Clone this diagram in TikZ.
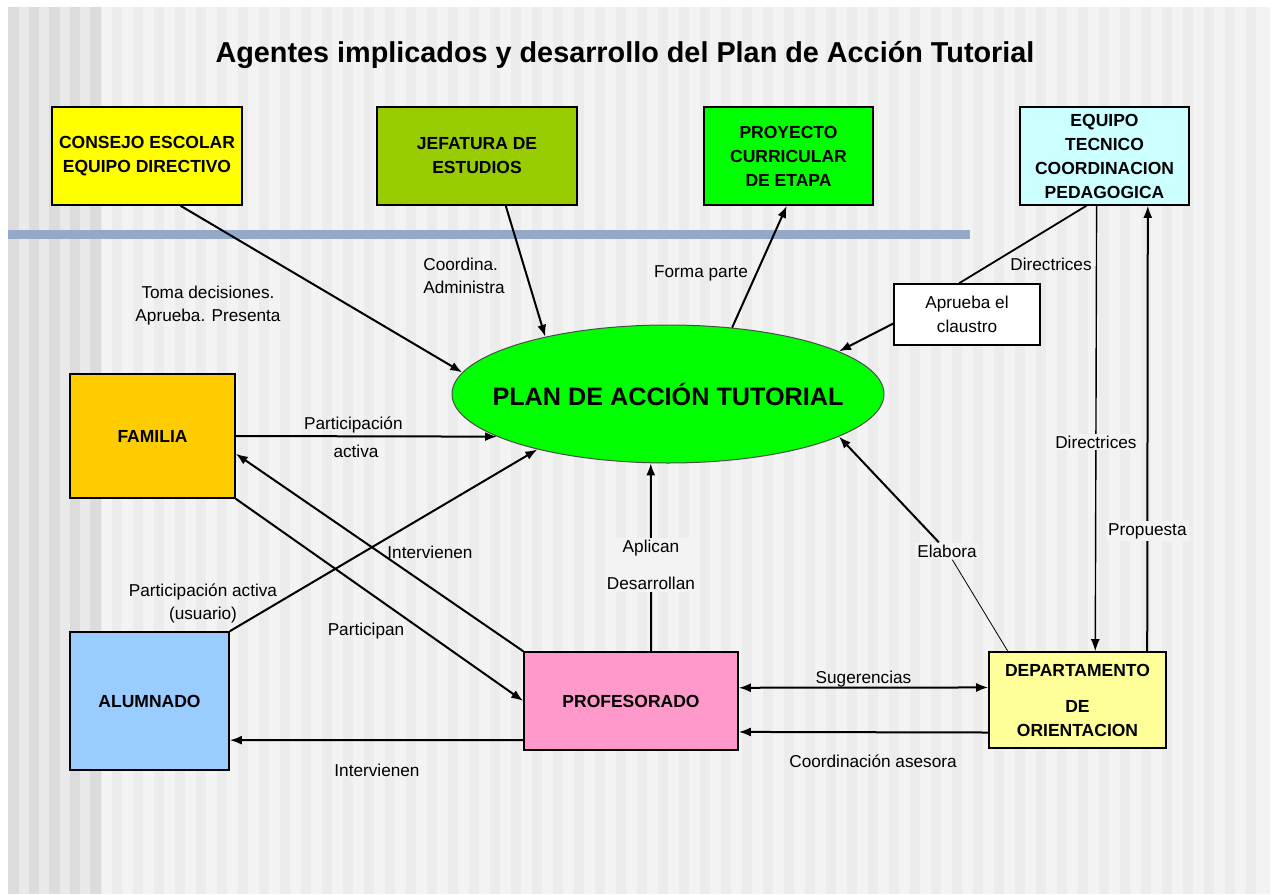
\documentclass[tikz,border=0pt]{standalone}
\usepackage{fontspec}
\setmainfont{Liberation Sans}
\usetikzlibrary{shapes.geometric, arrows.meta, positioning}

\definecolor{slidebg}{HTML}{F3F3F3}
\definecolor{faintstripe}{HTML}{ECECEC}
\definecolor{bandlight}{HTML}{E9E9E9}
\definecolor{banddark}{HTML}{DCDCDC}
\definecolor{barblue}{HTML}{93A9C7}
\definecolor{consejofill}{HTML}{FFFF00}
\definecolor{jefaturafill}{HTML}{99CC00}
\definecolor{proyectofill}{HTML}{00FF00}
\definecolor{equipofill}{HTML}{CCFFFF}
\definecolor{familiafill}{HTML}{FFCC00}
\definecolor{alumnadofill}{HTML}{99CCFF}
\definecolor{profesfill}{HTML}{FF99CC}
\definecolor{deptofill}{HTML}{FFFF99}

\begin{document}
\begin{tikzpicture}[x=0.5pt, y=-0.5pt, >={Latex[length=6pt,width=4.5pt]},
  box/.style={draw, line width=0.8pt, align=center, inner sep=1pt,
    font=\bfseries\fontsize{8.75}{12}\selectfont},
  lbl/.style={align=center, inner sep=1pt, font=\fontsize{8.6}{11.5}\selectfont},
  arr/.style={->, line width=1pt},
  thinline/.style={line width=0.7pt}]
  % fondo de la diapositiva
  \useasboundingbox (0,0) rectangle (1278,894);
  \fill[white] (0,0) rectangle (1278,894);
  \fill[slidebg] (8,7) rectangle (1270,894);
  \foreach \sx in {112,133,...,1260} \fill[faintstripe] (\sx,7) rectangle ++(10,887);
  \fill[bandlight] (8,7) rectangle (102,894);
  \foreach \sx in {8,28.5,...,95} \fill[banddark] (\sx,7) rectangle ++(10.5,887);
  \fill[barblue] (8,230) rectangle (970,239);

  \node[font=\bfseries\fontsize{14.4}{17}\selectfont] (titulo) at (625,55)
    {Agentes implicados y desarrollo del Plan de Acción Tutorial};

  % cajas de arriba
  \node[box, fill=consejofill, minimum width=95pt, minimum height=49pt] (consejo) at (147,156) {CONSEJO ESCOLAR\\EQUIPO DIRECTIVO};
  \node[box, fill=jefaturafill, minimum width=100pt, minimum height=49pt] (jefatura) at (477,156) {JEFATURA DE\\ESTUDIOS};
  \node[box, fill=proyectofill, minimum width=84.5pt, minimum height=49pt] (proyecto) at (788.5,156) {PROYECTO\\CURRICULAR\\DE ETAPA};
  \node[box, fill=equipofill, minimum width=84.5pt, minimum height=49pt] (equipo) at (1104.5,156) {EQUIPO\\TECNICO\\COORDINACION\\PEDAGOGICA};

  \node[ellipse, draw=black!70, line width=0.5pt, fill=proyectofill, minimum width=216pt, minimum height=69pt, inner sep=0pt,
    font=\bfseries\fontsize{12.6}{14}\selectfont] (plan) at (668,394) {\makebox[0pt]{PLAN DE ACCIÓN TUTORIAL}};

  \node[box, fill=white, font=\fontsize{8.6}{12}\selectfont, minimum width=73pt, minimum height=30.5pt] (claustro) at (967,314.5) {Aprueba el\\claustro};

  % cajas de abajo
  \node[box, fill=familiafill, minimum width=82.5pt, minimum height=62pt] (familia) at (152.5,436) {FAMILIA};
  \node[box, fill=alumnadofill, minimum width=79.5pt, minimum height=69pt] (alumnado) at (149.5,701) {ALUMNADO};
  \node[box, fill=profesfill, minimum width=107pt, minimum height=49pt] (profesorado) at (631,701) {PROFESORADO};
  \node[box, fill=deptofill, minimum width=88.5pt, minimum height=48pt] (depto) at (1077.5,700) {DEPARTAMENTO\\[6pt]DE\\ORIENTACION};

  % etiquetas sueltas
  \node[lbl] (tomalbl) at (208,306) {Toma decisiones.\\Aprueba. Presenta};
  \node[lbl, align=left] (coordlbl) at (464,276) {Coordina.\\Administra};
  \node[lbl] (formalbl) at (701,273) {Forma parte};
  \node[lbl] (direclbl) at (1051,264) {Directrices};
  \node[lbl] (intfamlbl) at (430,552) {Intervienen};
  \node[lbl] (partlbl) at (366,631) {Participan};
  \node[lbl] (usuariolbl) at (203,603) {Participación activa\\(usuario)};
  \node[lbl, fill=slidebg] (elabora) at (947,551) {Elabora};
  \node[lbl] (asesoralbl) at (873,761) {Coordinación asesora};
  \node[lbl] (intalulbl) at (377,770) {Intervienen};

  \path[arr]
  (consejo.-56) edge (plan.174)
    (jefatura.-60) edge (plan.155)
  (plan.46) edge (proyecto.-92)
    (claustro.187) edge (plan.14)
  (familia.east) edge node[lbl, above, pos=0.45] {Participación} node[lbl, below=3pt, pos=0.46] {activa} (plan.194)
    (profesorado.north west) edge (familia.-12)
  (familia.south east) edge (profesorado.west)
    (alumnado.north east) edge (plan.203)
  (profesorado.68) edge node[lbl, fill=slidebg, pos=0.46] {Aplican\\[7pt]Desarrollan} (plan.256)
    (elabora) edge (plan.-14)
  (depto.200) edge (profesorado.-16)
    (profesorado.200) edge (alumnado.-26)
  (depto.35) edge node[lbl, fill=slidebg, pos=0.27] {Propuesta} (equipo.-49)
    (profesorado.7) edge[<->] node[lbl, above, inner sep=0pt] {Sugerencias} (depto.172);

  \draw[thinline, ->] (equipo.-99.5) -- node[lbl, fill=slidebg, pos=0.53] {Directrices} (depto.70);
  \draw[line width=0.9pt] (equipo.-110) -- (claustro.104);
  \draw[line width=0.4pt] (depto.145) -- (elabora);
\end{tikzpicture}
\end{document}
